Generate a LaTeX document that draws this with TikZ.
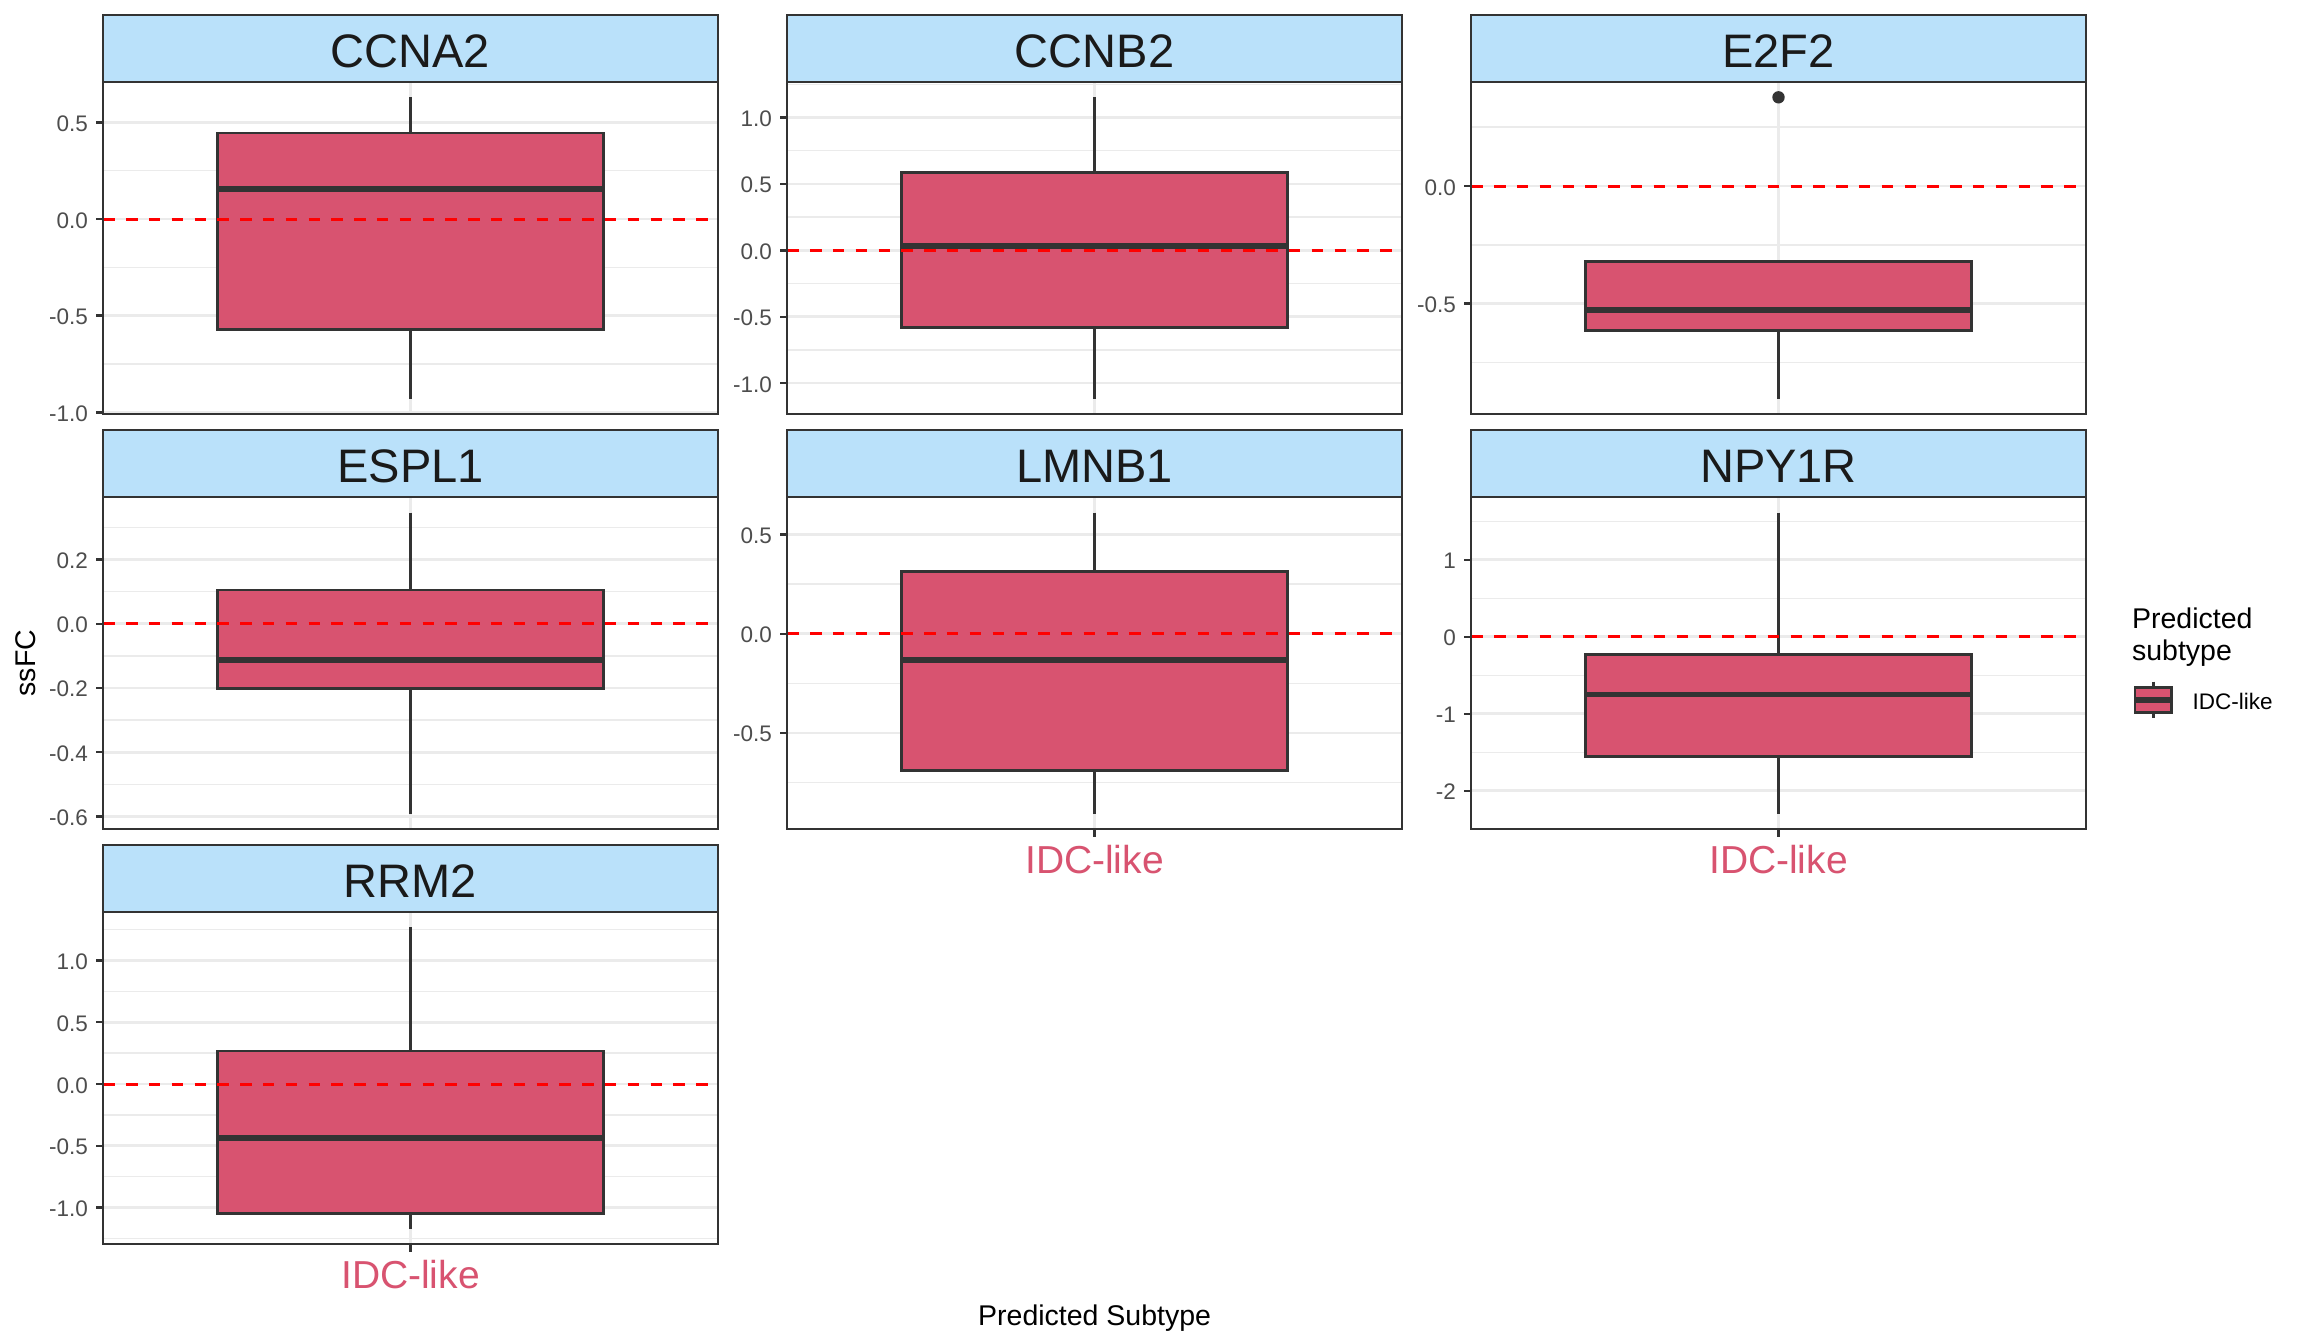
\documentclass[tikz,border=0pt]{standalone}
\usepackage{fontspec}
\setmainfont{Liberation Sans}
\definecolor{stripfill}{RGB}{186,225,250}
\definecolor{boxfill}{RGB}{216,83,112}
\definecolor{grey20}{RGB}{51,51,51}
\definecolor{grey10}{RGB}{26,26,26}
\definecolor{grey30}{RGB}{77,77,77}
\definecolor{grey92}{RGB}{235,235,235}
\tikzset{
 gridmajor/.style={draw=grey92, line width=1.35pt},
 gridminor/.style={draw=grey92, line width=0.7pt},
 panelborder/.style={draw=grey20, line width=1.1pt},
 stripbox/.style={fill=stripfill, draw=grey20, line width=1.1pt},
 boxbody/.style={fill=boxfill, draw=grey20, line width=1.45pt},
 whisk/.style={draw=grey20, line width=1.25pt},
 medline/.style={draw=grey20, line width=2.8pt},
 zeroline/.style={draw=red, line width=1.5pt, dash pattern=on 5.7pt off 5.7pt},
 ticks/.style={draw=grey20, line width=1.2pt},
 ticklab/.style={text=grey30, font=\fontsize{11.25}{13}\selectfont, inner sep=0pt},
 striplab/.style={text=grey10, font=\fontsize{23.5}{26}\selectfont, inner sep=0pt},
 xlab/.style={text=boxfill, font=\fontsize{19.5}{22}\selectfont, inner sep=0pt},
 titlelab/.style={text=black, font=\fontsize{14.25}{16}\selectfont, inner sep=0pt},
 keylab/.style={text=black, font=\fontsize{11.25}{13}\selectfont, inner sep=0pt},
}
% #1 left, #2 strip top, #3 zero y, #4 px per unit, #5 title,
% #6 lo/q1/med/q3/hi, #7 major value/label list, #8 minor list
\newcommand{\facet}[8]{%
 \pgfmathsetmacro{\PL}{#1}%
 \pgfmathsetmacro{\PR}{#1+614.3}%
 \pgfmathsetmacro{\PC}{#1+307.2}%
 \pgfmathsetmacro{\ST}{#2}%
 \pgfmathsetmacro{\PT}{#2+66.7}%
 \pgfmathsetmacro{\PB}{#2+399}%
 \def\Z{#3}\def\S{#4}%
 \fill[white] (\PL,\PT) rectangle (\PR,\PB);
 \foreach \v in {#8}{\pgfmathsetmacro{\yy}{\Z-\S*(\v)}\draw[gridminor] (\PL,\yy) -- (\PR,\yy);}
 \foreach \v/\lab in {#7}{\pgfmathsetmacro{\yy}{\Z-\S*(\v)}%
   \draw[gridmajor] (\PL,\yy) -- (\PR,\yy);
   \draw[ticks] (\PL-7.3,\yy) -- (\PL,\yy);
   \node[ticklab, anchor=base east] at (\PL-15,\yy+9) {\lab};}
 \draw[gridmajor] (\PC,\PT) -- (\PC,\PB);
 \foreach \lo/\qa/\md/\qc/\hi in {#6}{%
   \pgfmathsetmacro{\ylo}{\Z-\S*(\lo)}%
   \pgfmathsetmacro{\yqa}{\Z-\S*(\qa)}%
   \pgfmathsetmacro{\ymd}{\Z-\S*(\md)}%
   \pgfmathsetmacro{\yqc}{\Z-\S*(\qc)}%
   \pgfmathsetmacro{\yhi}{\Z-\S*(\hi)}%
   \draw[whisk] (\PC,\yhi) -- (\PC,\yqc);
   \draw[whisk] (\PC,\yqa) -- (\PC,\ylo);
   \draw[boxbody] (\PC-192.7,\yqc) rectangle (\PC+192.7,\yqa);
   \draw[medline] (\PC-192.7,\ymd) -- (\PC+192.7,\ymd);
 }
}
\newcommand{\facetend}[5]{% #1 left, #2 strip top, #3 zero y, #4 title, #5 node name
 \pgfmathsetmacro{\PL}{#1}%
 \pgfmathsetmacro{\PR}{#1+614.3}%
 \pgfmathsetmacro{\PC}{#1+307.2}%
 \pgfmathsetmacro{\ST}{#2}%
 \pgfmathsetmacro{\PT}{#2+66.7}%
 \pgfmathsetmacro{\PB}{#2+399}%
 \draw[zeroline] (\PL,#3) -- (\PR,#3);
 \draw[panelborder] (\PL,\PT) rectangle (\PR,\PB);
 \draw[stripbox] (\PL,\ST) rectangle (\PR,\PT);
 \node[striplab, anchor=base] (#5) at (\PC,\ST+52) {#4};
}
\newcommand{\xaxis}[3]{% #1 left, #2 strip top, #3 node name
 \pgfmathsetmacro{\PC}{#1+307.2}\pgfmathsetmacro{\PB}{#2+399}%
 \draw[ticks] (\PC,\PB) -- (\PC,\PB+7.7);
 \node[xlab, anchor=base] (#3) at (\PC,\PB+44) {IDC-like};
}
\begin{document}
\begin{tikzpicture}[x=0.5pt, y=-0.5pt]
\useasboundingbox (0,0) rectangle (2304,1344);
\fill[white] (0,0) rectangle (2304,1344);

% CCNA2
\facet{103.3}{15}{219}{193.3}{CCNA2}{-0.933/-0.571/0.154/0.445/0.63}
 {-1/-1.0,-0.5/-0.5,0/0.0,0.5/0.5}{-0.75,-0.25,0.25}
\facetend{103.3}{15}{219}{CCNA2}{sCCNA2}
% CCNB2
\facet{787.3}{15}{250.3}{132.8}{CCNB2}{-1.122/-0.578/0.032/0.584/1.152}
 {-1/-1.0,-0.5/-0.5,0/0.0,0.5/0.5,1/1.0}{-0.75,-0.25,0.25,0.75,1.25}
\facetend{787.3}{15}{250.3}{CCNB2}{sCCNB2}
% E2F2
\facet{1471.3}{15}{186}{235.3}{E2F2}{-0.907/-0.616/-0.528/-0.319/-0.319}
 {-0.5/-0.5,0/0.0}{-0.75,-0.25,0.25}
\fill[grey20] (1778.5,97.3) circle (6.2);
\facetend{1471.3}{15}{186}{E2F2}{sE2F2}
% ESPL1
\facet{103.3}{430}{623.7}{321.3}{ESPL1}{-0.593/-0.201/-0.113/0.105/0.3455}
 {-0.6/-0.6,-0.4/-0.4,-0.2/-0.2,0/0.0,0.2/0.2}{-0.5,-0.3,-0.1,0.1,0.3}
\facetend{103.3}{430}{623.7}{ESPL1}{sESPL1}
% LMNB1
\facet{787.3}{430}{633.7}{198.3}{LMNB1}{-0.911/-0.692/-0.133/0.313/0.610}
 {-0.5/-0.5,0/0.0,0.5/0.5}{-0.75,-0.25,0.25}
\facetend{787.3}{430}{633.7}{LMNB1}{sLMNB1}
\xaxis{787.3}{430}{xLMNB1}
% NPY1R
\facet{1471.3}{430}{636.7}{77.0}{NPY1R}{-2.306/-1.55/-0.748/-0.229/1.61}
 {-2/-2,-1/-1,0/0,1/1}{-1.5,-0.5,0.5,1.5}
\facetend{1471.3}{430}{636.7}{NPY1R}{sNPY1R}
\xaxis{1471.3}{430}{xNPY1R}
% RRM2
\facet{103.3}{845}{1084}{123.5}{RRM2}{-1.177/-1.045/-0.435/0.267/1.269}
 {-1/-1.0,-0.5/-0.5,0/0.0,0.5/0.5,1/1.0}{-1.25,-0.75,-0.25,0.25,0.75,1.25}
\facetend{103.3}{845}{1084}{RRM2}{sRRM2}
\xaxis{103.3}{845}{xRRM2}

% axis titles
\node[titlelab, rotate=90, anchor=base] (ytitle) at (35.7,663) {ssFC};
\node[titlelab, anchor=base] (xtitle) at (1094.6,1325.5) {Predicted Subtype};

% legend
\node[titlelab, anchor=base west] (leg1) at (2131.7,628.5) {Predicted};
\node[titlelab, anchor=base west] (leg2) at (2131.7,660) {subtype};
\draw[whisk] (2153.3,681.7) -- (2153.3,717.7);
\draw[boxbody] (2135,687.3) rectangle (2171.7,712.3);
\draw[medline] (2135,700) -- (2171.7,700);
\node[keylab, anchor=base west] (legkey) at (2192.3,709.5) {IDC-like};
\end{tikzpicture}
\end{document}
